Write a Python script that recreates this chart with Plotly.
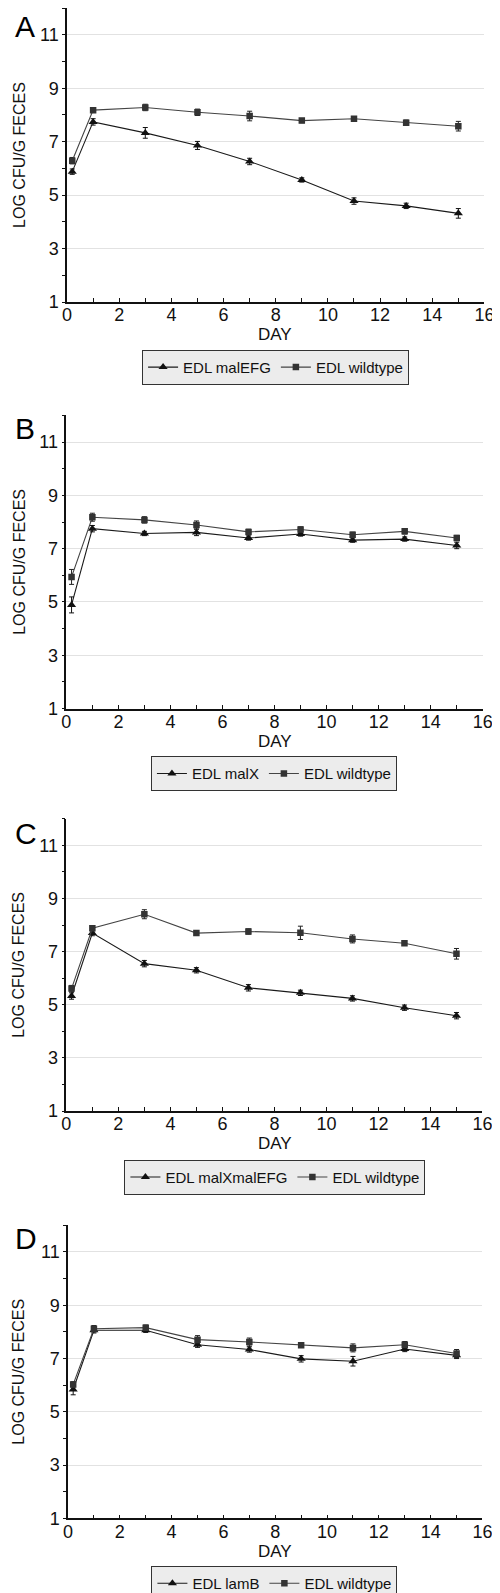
import plotly.graph_objects as go

W, H = 500, 1593

days = [0.2, 1, 3, 5, 7, 9, 11, 13, 15]

# Panel A
a_mut_name = "EDL malEFG"
a_mut = [5.88, 7.74, 7.33, 6.86, 6.26, 5.57, 4.78, 4.60, 4.32]
a_mut_err = [0.10, 0.12, 0.20, 0.15, 0.12, 0.08, 0.12, 0.10, 0.18]
a_wt = [6.29, 8.18, 8.28, 8.10, 7.96, 7.79, 7.86, 7.71, 7.58]
a_wt_err = [0.12, 0.08, 0.12, 0.12, 0.18, 0.08, 0.08, 0.10, 0.18]

# Panel B
b_mut_name = "EDL malX"
b_mut = [4.89, 7.75, 7.57, 7.61, 7.40, 7.55, 7.32, 7.36, 7.12]
b_mut_err = [0.30, 0.12, 0.08, 0.12, 0.08, 0.08, 0.08, 0.08, 0.12]
b_wt = [5.94, 8.18, 8.08, 7.89, 7.63, 7.72, 7.52, 7.65, 7.40]
b_wt_err = [0.28, 0.15, 0.12, 0.15, 0.10, 0.10, 0.10, 0.10, 0.10]

# Panel C
c_mut_name = "EDL malXmalEFG"
c_mut = [5.33, 7.70, 6.55, 6.30, 5.64, 5.45, 5.24, 4.89, 4.59]
c_mut_err = [0.12, 0.10, 0.12, 0.10, 0.12, 0.10, 0.10, 0.10, 0.12]
c_wt = [5.61, 7.88, 8.41, 7.70, 7.76, 7.71, 7.48, 7.32, 6.92]
c_wt_err = [0.12, 0.10, 0.17, 0.08, 0.10, 0.25, 0.15, 0.08, 0.20]

# Panel D
d_mut_name = "EDL lamB"
d_mut = [5.84, 8.06, 8.06, 7.52, 7.34, 6.99, 6.90, 7.36, 7.12]
d_mut_err = [0.20, 0.10, 0.08, 0.10, 0.10, 0.12, 0.18, 0.10, 0.12]
d_wt = [6.03, 8.12, 8.16, 7.71, 7.62, 7.50, 7.40, 7.52, 7.19]
d_wt_err = [0.10, 0.12, 0.10, 0.15, 0.15, 0.08, 0.15, 0.12, 0.15]

wt_name = "EDL wildtype"
letters = ["A", "B", "C", "D"]
y_title = "LOG CFU/G FECES"
x_title = "DAY"

panels = [
    (a_mut_name, a_mut, a_mut_err, a_wt, a_wt_err),
    (b_mut_name, b_mut, b_mut_err, b_wt, b_wt_err),
    (c_mut_name, c_mut, c_mut_err, c_wt, c_wt_err),
    (d_mut_name, d_mut, d_mut_err, d_wt, d_wt_err),
]

# layout geometry (pixels)
plot_boxes = [  # x0, x1, ytop, ybottom
    (55.7, 486.0, 0, 296),
    (55.0, 484.3, 410, 705),
    (55.0, 484.0, 816, 1110),
    (56.7, 484.0, 1225, 1520),
]
letter_tops = [0, 405, 812, 1220]
legend_boxes = [  # x0, x1, ytop, ybottom
    (145.7, 395.7, 344, 369),
    (155, 383, 753, 777),
    (128, 412, 1159, 1183),
    (156, 383, 1568, 1592),
]

FONT = "Liberation Sans, Arial, sans-serif"

fig = go.Figure()
layout = dict(
    width=W, height=H,
    margin=dict(l=0, r=0, t=0, b=0),
    paper_bgcolor="white", plot_bgcolor="white",
    font=dict(family=FONT, color="#111"),
    showlegend=True,
)
annotations = []
shapes = []

def px(v):
    return v / W

def py(v):
    return 1 - v / H

for i, (mname, mvals, merr, wvals, werr) in enumerate(panels):
    n = i + 1
    xa = "x" if n == 1 else f"x{n}"
    ya = "y" if n == 1 else f"y{n}"
    lg = "legend" if n == 1 else f"legend{n}"
    x0, x1, yt, yb = plot_boxes[i]

    fig.add_trace(go.Scatter(
        x=days, y=mvals, name=mname, mode="lines+markers",
        xaxis=xa, yaxis=ya, legend=lg,
        line=dict(color="#1a1a1a", width=1.1),
        marker=dict(symbol="triangle-up", size=8, color="#111"),
        error_y=dict(type="data", array=merr, visible=True,
                     color="#111", thickness=1, width=2.5),
    ))
    fig.add_trace(go.Scatter(
        x=days, y=wvals, name=wt_name, mode="lines+markers",
        xaxis=xa, yaxis=ya, legend=lg,
        line=dict(color="#444", width=1.1),
        marker=dict(symbol="square", size=6.5, color="#333"),
        error_y=dict(type="data", array=werr, visible=True,
                     color="#222", thickness=1, width=2.5),
    ))

    xkey = "xaxis" if n == 1 else f"xaxis{n}"
    ykey = "yaxis" if n == 1 else f"yaxis{n}"
    layout[xkey] = dict(
        domain=[px(x0), px(x1)], anchor=ya, range=[0, 16],
        tickmode="linear", tick0=0, dtick=2,
        ticks="inside", ticklen=4, tickcolor="#111", tickwidth=1,
        minor=dict(dtick=1, tick0=0, ticks="inside", ticklen=4,
                   tickcolor="#111", tickwidth=1, showgrid=False),
        showline=True, linecolor="#111", linewidth=1.5,
        showgrid=False, zeroline=False,
        tickfont=dict(size=18, family=FONT, color="#111"),
        ticklabeloverflow="allow", ticklabelstandoff=-4,
        fixedrange=True,
    )
    layout[ykey] = dict(
        domain=[py(yb), py(yt)], anchor=xa, range=[1, 12],
        tickmode="linear", tick0=1, dtick=2,
        ticks="outside", ticklen=3, tickcolor="#111", tickwidth=1,
        minor=dict(dtick=1, tick0=1, ticks="outside", ticklen=3,
                   tickcolor="#111", tickwidth=1, showgrid=False),
        showline=True, linecolor="#111", linewidth=1.5,
        showgrid=True, gridcolor="#e2e2e2", gridwidth=1,
        zeroline=False, ticklabelstandoff=0,
        tickfont=dict(size=18, family=FONT, color="#111"),
        ticklabeloverflow="allow",
        fixedrange=True,
    )

    lx0, lx1, lyt, lyb = legend_boxes[i]
    layout[lg] = dict(
        orientation="h", xref="paper", yref="paper",
        x=px((lx0 + lx1) / 2), xanchor="center",
        y=py(lyt), yanchor="top",
        bgcolor="#ececec", bordercolor="#333", borderwidth=1,
        font=dict(size=15, family=FONT, color="#111"),
        itemwidth=30, tracegroupgap=0,
        itemclick=False, itemdoubleclick=False,
    )
    # legend drop shadow
    shapes.append(dict(
        type="rect", xref="paper", yref="paper",
        x0=px(lx0 + 3), x1=px(lx1 + 3), y0=py(lyb + 3), y1=py(lyt + 3),
        fillcolor="#9a9a9a", line=dict(width=0), layer="above",
    ))

    # panel letter
    annotations.append(dict(
        text=letters[i], xref="paper", yref="paper",
        x=0, y=py(letter_tops[i]), xanchor="left", yanchor="top",
        showarrow=False, font=dict(size=30, family=FONT, color="#000"),
    ))
    # y title
    annotations.append(dict(
        text=y_title, xref="paper", yref="paper", textangle=-90,
        x=px(6), y=py((yt + yb) / 2), xanchor="center", yanchor="middle",
        showarrow=False, font=dict(size=16, family=FONT, color="#111"),
    ))
    # x title
    annotations.append(dict(
        text=x_title, xref="paper", yref="paper",
        x=px(270), y=py(yb + 33), xanchor="center", yanchor="middle",
        showarrow=False, font=dict(size=17, family=FONT, color="#111"),
    ))

layout["annotations"] = annotations
layout["shapes"] = shapes
fig.update_layout(**layout)

fig.write_html("out.html")
